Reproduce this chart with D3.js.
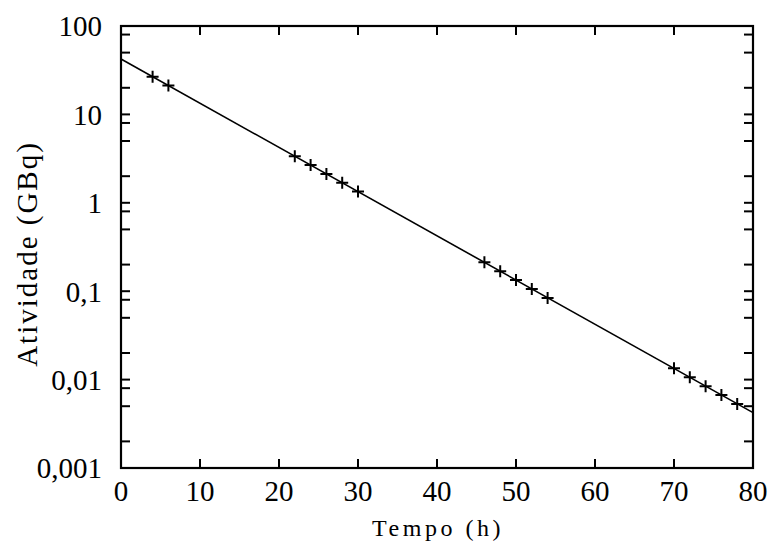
<!DOCTYPE html>
<html>
<head>
<meta charset="utf-8">
<script src="https://cdn.jsdelivr.net/npm/d3@7"></script>
<style>
  body { margin: 0; background: #fff; }
  text { font-family: "Liberation Serif", "Times New Roman", serif; fill: #000; }
</style>
</head>
<body>
<div id="chart"></div>
<script>
// measured points (tempo in h, atividade in GBq)
const tempo = [4, 6, 22, 24, 26, 28, 30, 46, 48, 50, 52, 54, 70, 72, 74, 76, 78];
const atividade = [26.7, 21.2, 3.37, 2.67, 2.12, 1.69, 1.34, 0.212, 0.168, 0.134, 0.106, 0.084,
  0.0134, 0.0106, 0.0084, 0.0067, 0.0053];

// fitted decay line, end points
const fitTempo = [0, 80];
const fitAtividade = [42.3, 0.00423];

const xTicks = [0, 10, 20, 30, 40, 50, 60, 70, 80];
const yTicks = [100, 10, 1, 0.1, 0.01, 0.001];
const yTickLabels = ['100', '10', '1', '0,1', '0,01', '0,001'];
const yMinor = [2, 5, 8];

const width = 771, height = 555;
const margin = {left: 121, right: 18, top: 26, bottom: 87};

const svg = d3.select('#chart')
  .append('svg')
  .attr('width', width)
  .attr('height', height);

const x = d3.scaleLinear()
  .domain([0, 80])
  .range([margin.left, width - margin.right]);

const y = d3.scaleLog()
  .domain([0.001, 100])
  .range([height - margin.bottom, margin.top]);

const tickLen = 9;

// minor + major ticks on y, both sides, inward
let yAll = [];
yTicks.forEach(d => {
  yAll.push(d);
  if (d < 100) yMinor.forEach(m => yAll.push(d * m));
});

const g = svg.append('g');

g.selectAll('.ytl')
  .data(yAll)
  .join('line')
  .attr('x1', x(0))
  .attr('x2', x(0) + tickLen)
  .attr('y1', d => y(d))
  .attr('y2', d => y(d))
  .attr('stroke', '#000')
  .attr('stroke-width', 2);

g.selectAll('.ytr')
  .data(yAll)
  .join('line')
  .attr('x1', x(80))
  .attr('x2', x(80) - tickLen)
  .attr('y1', d => y(d))
  .attr('y2', d => y(d))
  .attr('stroke', '#000')
  .attr('stroke-width', 2);

const xInner = xTicks.slice(1, -1);

g.selectAll('.xtb')
  .data(xInner)
  .join('line')
  .attr('x1', d => x(d))
  .attr('x2', d => x(d))
  .attr('y1', y(0.001))
  .attr('y2', y(0.001) - tickLen)
  .attr('stroke', '#000')
  .attr('stroke-width', 2);

g.selectAll('.xtt')
  .data(xInner)
  .join('line')
  .attr('x1', d => x(d))
  .attr('x2', d => x(d))
  .attr('y1', y(100))
  .attr('y2', y(100) + tickLen)
  .attr('stroke', '#000')
  .attr('stroke-width', 2);

// frame
svg.append('rect')
  .attr('x', x(0))
  .attr('y', y(100))
  .attr('width', x(80) - x(0))
  .attr('height', y(0.001) - y(100))
  .attr('fill', 'none')
  .attr('stroke', '#000')
  .attr('stroke-width', 2.2);

// tick labels
svg.selectAll('.ylab')
  .data(yTicks)
  .join('text')
  .attr('x', x(0) - 19)
  .attr('y', d => y(d))
  .attr('dy', '0.36em')
  .attr('text-anchor', 'end')
  .attr('font-size', '29px')
  .text((d, i) => yTickLabels[i]);

svg.selectAll('.xlab')
  .data(xTicks)
  .join('text')
  .attr('x', d => x(d))
  .attr('y', y(0.001) + 33)
  .attr('text-anchor', 'middle')
  .attr('font-size', '29px')
  .text(d => d);

// axis titles
svg.append('text')
  .attr('x', 438)
  .attr('y', 536)
  .attr('text-anchor', 'middle')
  .attr('font-size', '24px')
  .attr('letter-spacing', '3.5px')
  .text('Tempo (h)');

svg.append('text')
  .attr('transform', 'translate(37, 254) rotate(-90)')
  .attr('text-anchor', 'middle')
  .attr('font-size', '29px')
  .attr('letter-spacing', '2px')
  .text('Atividade (GBq)');

// fitted line
const fit = fitTempo.map((t, i) => ({t: t, a: fitAtividade[i]}));
svg.append('path')
  .datum(fit)
  .attr('d', d3.line().x(d => x(d.t)).y(d => y(d.a)))
  .attr('fill', 'none')
  .attr('stroke', '#000')
  .attr('stroke-width', 1.6);

// data markers (+)
const pts = tempo.map((t, i) => ({t: t, a: atividade[i]}));
svg.selectAll('.pt')
  .data(pts)
  .join('path')
  .attr('transform', d => `translate(${x(d.t)},${y(d.a)})`)
  .attr('d', 'M-6,0H6M0,-6V6')
  .attr('stroke', '#000')
  .attr('stroke-width', 2)
  .attr('fill', 'none');
</script>
</body>
</html>
